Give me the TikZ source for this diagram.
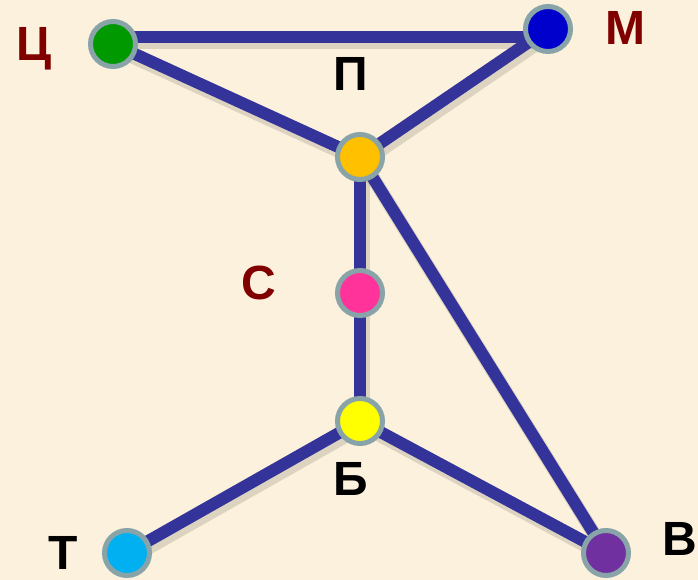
\documentclass[tikz,border=0pt]{standalone}
\usepackage{fontspec}
\setmainfont{Liberation Sans}
\definecolor{bg}{HTML}{FBF1DC}
\definecolor{edge}{HTML}{333399}
\definecolor{rim}{HTML}{88A4A8}
\definecolor{darkred}{HTML}{800000}
\begin{document}
\begin{tikzpicture}[x=1pt,y=-1pt]
    \tikzstyle{vertex} = [circle,draw=rim,line width=5pt,minimum size=45pt,inner sep=0pt]
    \tikzstyle{road} = [draw=edge,line width=12pt]
    \tikzstyle{roadshadow} = [draw=black,opacity=0.12,line width=14pt]
    \tikzstyle{letter} = [font=\fontsize{48}{48}\selectfont\bfseries,inner sep=0pt]
        \fill[bg] (0,0) rectangle (698,580);
        \useasboundingbox (0,0) rectangle (698,580);
        \coordinate (c) at (113,44);
        \coordinate (m) at (548,29);
        \coordinate (p) at (360,157);
        \coordinate (s) at (360,293);
        \coordinate (b) at (360,421);
        \coordinate (t) at (127,553);
        \coordinate (v) at (606,553);
        \coordinate (ctop) at (113,37);
        \coordinate (mtop) at (548,37);
        \begin{scope}[shift={(3,5)}]
        \draw[roadshadow] (113,37) -- (548,37);
        \draw[roadshadow] (113,44) -- (360,157) -- (548,29);
        \draw[roadshadow] (360,157) -- (360,421);
        \draw[roadshadow] (360,157) -- (606,553);
        \draw[roadshadow] (127,553) -- (360,421) -- (606,553);
        \end{scope}
        \draw[road] (ctop) -- (mtop);
        \draw[road] (c) -- (p);
        \draw[road] (m) -- (p);
        \draw[road] (p) -- (s);
        \draw[road] (s) -- (b);
        \draw[road] (p) -- (v);
        \draw[road] (b) -- (t);
        \draw[road] (b) -- (v);
        \node[vertex,fill={rgb,255:red,0;green,153;blue,0}] (nc) at (c) {};
        \node[vertex,fill={rgb,255:red,0;green,0;blue,204}] (nm) at (m) {};
        \node[vertex,fill={rgb,255:red,255;green,192;blue,0}] (np) at (p) {};
        \node[vertex,fill={rgb,255:red,255;green,51;blue,153}] (ns) at (s) {};
        \node[vertex,fill={rgb,255:red,255;green,255;blue,0}] (nb) at (b) {};
        \node[vertex,fill={rgb,255:red,0;green,176;blue,240}] (nt) at (t) {};
        \node[vertex,fill={rgb,255:red,112;green,48;blue,160}] (nv) at (v) {};
        \node[letter,text=darkred] (lc) at (34,49) {Ц};
        \node[letter,text=darkred] (lm) at (625,28) {М};
        \node[letter] (lp) at (351,74) {П};
        \node[letter,text=darkred] (ls) at (259,283) {С};
        \node[letter] (lb) at (351,479) {Б};
        \node[letter] (lt) at (63,553) {Т};
        \node[letter] (lv) at (680,539) {В};
    \end{tikzpicture}
\end{document}
